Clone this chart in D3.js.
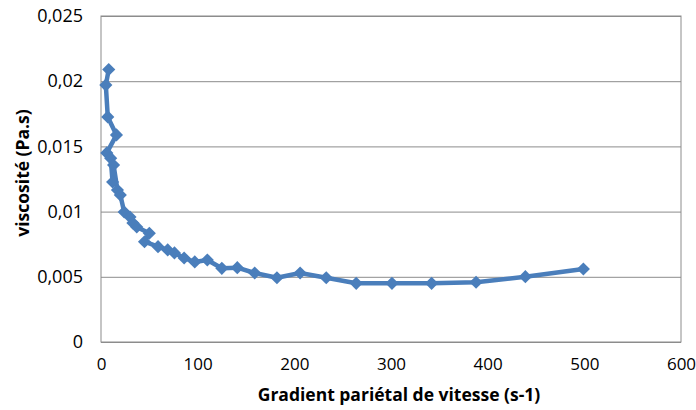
<!DOCTYPE html>
<html>
<head>
<meta charset="utf-8">
<script src="https://cdn.jsdelivr.net/npm/d3@7"></script>
<style>
  body { margin: 0; background: #fff; }
  svg text { font-family: "Open Sans", sans-serif; fill: #000; }
</style>
</head>
<body>
<div id="chart"></div>
<script>
'use strict';

// shear rate (s-1)
var gradient = [8, 5, 7, 16, 6, 10, 12, 13, 17, 20, 24, 30, 33, 37, 50, 45, 59, 69, 76, 86, 97, 110, 125, 141, 159, 182, 206, 233, 264, 301, 342, 388, 439, 499];
// viscosity (Pa.s)
var viscosite = [0.0209, 0.0197, 0.01726, 0.01588, 0.0145, 0.0141, 0.01227, 0.01357, 0.01166, 0.01127, 0.00997, 0.00959, 0.00913, 0.00882, 0.00834, 0.00769, 0.00731, 0.00706, 0.00683, 0.00644, 0.00614, 0.00629, 0.00565, 0.0057, 0.00529, 0.00493, 0.00529, 0.00493, 0.0045, 0.0045, 0.0045, 0.00458, 0.00501, 0.0056];
var xTicks = [0, 100, 200, 300, 400, 500, 600];
var yTicks = [0, 0.005, 0.01, 0.015, 0.02, 0.025];

var svgWidth = 696, svgHeight = 410;
var margin = {top: 16, right: 15, bottom: 68, left: 101};
var width = svgWidth - margin.left - margin.right;
var height = svgHeight - margin.top - margin.bottom;

var svg = d3.select("#chart").append("svg")
    .attr("width", svgWidth)
    .attr("height", svgHeight);

var g = svg.append("g").attr("transform", "translate(" + margin.left + "," + margin.top + ")");

var x = d3.scaleLinear().domain([0, 600]).range([0, width]);
var y = d3.scaleLinear().domain([0, 0.025]).range([height, 0]);

var fmt = function(d) { return String(d).replace(".", ","); };

// horizontal grid lines
g.append("g")
    .call(d3.axisLeft(y).tickValues(yTicks).tickSize(-width).tickFormat(""))
    .call(function(s) {
      s.select(".domain").remove();
      s.selectAll("line").attr("stroke", "#8c8c8c").attr("stroke-width", 1);
    });

// plot frame
g.append("rect")
    .attr("x", 0).attr("y", 0)
    .attr("width", width).attr("height", height)
    .attr("fill", "none")
    .attr("stroke", "#8c8c8c");

// x axis
g.append("g")
    .attr("transform", "translate(0," + height + ")")
    .call(d3.axisBottom(x).tickValues(xTicks).tickSize(0).tickPadding(16).tickFormat(fmt))
    .call(function(s) {
      s.select(".domain").remove();
      s.selectAll("text").attr("font-size", "17px").attr("font-family", "Open Sans, sans-serif").attr("fill", "#000");
    });

// y axis
g.append("g")
    .call(d3.axisLeft(y).tickValues(yTicks).tickSize(0).tickPadding(18).tickFormat(fmt))
    .call(function(s) {
      s.select(".domain").remove();
      s.selectAll("text").attr("font-size", "18px").attr("font-family", "Open Sans, sans-serif").attr("fill", "#000");
    });

// axis titles
svg.append("text")
    .attr("x", 399)
    .attr("y", 401)
    .attr("text-anchor", "middle")
    .attr("font-size", "17.5px")
    .attr("font-weight", "bold")
    .text("Gradient pariétal de vitesse (s-1)");

svg.append("text")
    .attr("transform", "translate(29," + (margin.top + height / 2 - 6) + ") rotate(-90)")
    .attr("text-anchor", "middle")
    .attr("font-size", "17.5px")
    .attr("font-weight", "bold")
    .text("viscosité (Pa.s)");

var data = gradient.map(function(d, i) { return {x: d, y: viscosite[i]}; });

var line = d3.line()
    .x(function(d) { return x(d.x); })
    .y(function(d) { return y(d.y); });

g.append("path")
    .datum(data)
    .attr("fill", "none")
    .attr("stroke", "#4a7ebb")
    .attr("stroke-width", 4.5)
    .attr("stroke-linejoin", "round")
    .attr("d", line);

g.selectAll(".pt")
    .data(data)
    .enter().append("path")
    .attr("class", "pt")
    .attr("transform", function(d) { return "translate(" + x(d.x) + "," + y(d.y) + ")"; })
    .attr("d", d3.symbol().type(d3.symbolDiamond2).size(110))
    .attr("fill", "#4a7ebb");
</script>
</body>
</html>
